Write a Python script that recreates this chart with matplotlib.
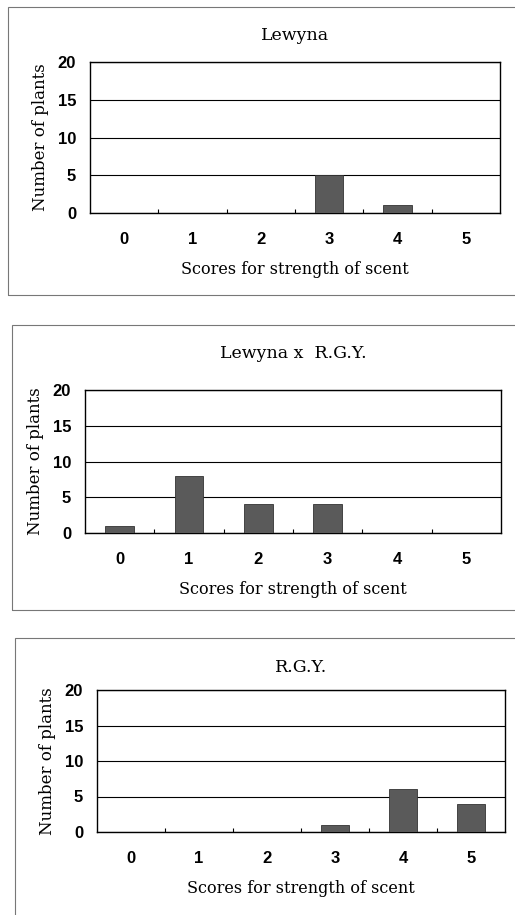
import matplotlib.pyplot as plt
from matplotlib.patches import Rectangle

# Dados
scores = [0, 1, 2, 3, 4, 5]
titulos = ['Lewyna', 'Lewyna x  R.G.Y.', 'R.G.Y.']
lewyna = [0, 0, 0, 5, 1, 0]
cruzamento = [1, 8, 4, 4, 0, 0]
rgy = [0, 0, 0, 1, 6, 4]
series = [lewyna, cruzamento, rgy]

W, H = 515, 915
fig = plt.figure(figsize=(W / 100, H / 100), dpi=100)

# posicoes em pixels: (esq, dir, topo, base) do eixo, y do titulo, moldura
eixos = [(90, 500, 62, 213), (85, 501, 390, 533), (97, 505, 690, 832)]
y_titulo = [35, 353, 667]
molduras = [(8, 7, 295), (12, 325, 610), (15, 638, 930)]

serif = ['DejaVu Serif']
sans = ['Liberation Sans', 'DejaVu Sans']

for i in range(3):
  e, d, t, b = eixos[i]
  mx, mt, mb = molduras[i]
  fig.patches.append(Rectangle((mx / W, 1 - mb / H), (W + 10 - mx) / W, (mb - mt) / H,
                               transform=fig.transFigure, fill=False,
                               edgecolor='#777777', linewidth=0.8))
  ax = fig.add_axes([e / W, 1 - b / H, (d - e) / W, (b - t) / H])
  ax.bar(scores, series[i], width=0.41, color='#5a5a5a', edgecolor='#333333',
         linewidth=0.6, zorder=3)
  ax.set_xlim(-0.5, 5.5)
  ax.set_ylim(0, 20)
  ax.set_yticks([0, 5, 10, 15, 20])
  ax.set_xticks(scores)
  ax.set_xticks([0.5, 1.5, 2.5, 3.5, 4.5], minor=True)
  ax.tick_params(axis='x', which='major', length=0, pad=14)
  ax.tick_params(axis='x', which='minor', direction='in', length=3, width=0.8)
  ax.tick_params(axis='y', length=0, pad=10)
  for lbl in ax.get_xticklabels() + ax.get_yticklabels():
    lbl.set_family(sans)
    lbl.set_fontsize(12)
    lbl.set_weight('bold')
  ax.grid(axis='y', color='black', linewidth=0.8)
  ax.set_axisbelow(True)
  for s in ax.spines.values():
    s.set_linewidth(1.0)
  ax.set_xlabel('Scores for strength of scent', family=serif, fontsize=11.5, labelpad=10)
  ax.set_ylabel('Number of plants', family=serif, fontsize=12, labelpad=6)
  fig.text((e + d) / 2 / W, 1 - y_titulo[i] / H, titulos[i], family=serif,
           fontsize=12.5, ha='center', va='center')

plt.savefig('out.png', dpi=100)
plt.close()
